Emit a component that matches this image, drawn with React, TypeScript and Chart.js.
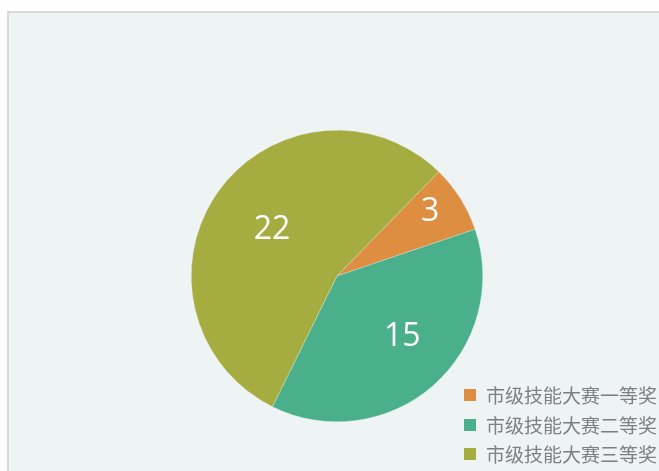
import React, { useEffect, useRef } from "react";
import { Chart, registerables } from "chart.js";

Chart.register(...registerables);

const categories = ["市级技能大赛一等奖", "市级技能大赛二等奖", "市级技能大赛三等奖"];
const values = [3, 15, 22];
const colors = ["#DD8E40", "#4AAF8B", "#A5AD41"];
const labelRadiusFactor = [0.783, 0.601, 0.555];
const labelAngleOffsetDeg = [-3.1, -6.9, 1.3];

const LABEL_FONT = 32;

const labelPlugin = {
  id: "sliceLabels",
  afterDatasetsDraw(chart: any) {
    const ctx = chart.ctx;
    const meta = chart.getDatasetMeta(0);
    ctx.save();
    ctx.fillStyle = "#ffffff";
    ctx.font = `${LABEL_FONT}px 'Open Sans', sans-serif`;
    ctx.textAlign = "center";
    ctx.textBaseline = "alphabetic";
    meta.data.forEach((arc: any, i: number) => {
      const p = arc.getProps(["x", "y", "startAngle", "endAngle", "outerRadius"], true);
      const mid = (p.startAngle + p.endAngle) / 2 + (labelAngleOffsetDeg[i] * Math.PI) / 180;
      const r = p.outerRadius * labelRadiusFactor[i];
      const cx = p.x + Math.cos(mid) * r;
      const cy = p.y + Math.sin(mid) * r;
      ctx.fillText(String(values[i]), cx, cy + LABEL_FONT * 0.357);
    });
    ctx.restore();
  },
};

const legendPlugin = {
  id: "customLegend",
  afterDraw(chart: any) {
    const ctx = chart.ctx;
    ctx.save();
    ctx.font = "19px 'Noto Sans CJK SC', sans-serif";
    ctx.textBaseline = "middle";
    ctx.textAlign = "left";
    const x0 = 464;
    const ys = [395, 425, 454];
    categories.forEach((c, i) => {
      ctx.fillStyle = colors[i];
      ctx.fillRect(x0, ys[i] - 6, 12, 12);
      ctx.fillStyle = "#7f7f7f";
      ctx.fillText(c, x0 + 22, ys[i] + 1);
    });
    ctx.restore();
  },
};

export default function App() {
  const ref = useRef<HTMLCanvasElement | null>(null);
  useEffect(() => {
    if (!ref.current) return;
    const chart = new Chart(ref.current, {
      type: "pie",
      data: {
        labels: categories,
        datasets: [
          {
            data: values,
            backgroundColor: colors,
            borderColor: "rgba(238,243,244,0.6)",
            borderWidth: 0.5,
          },
        ],
      },
      options: {
        animation: false,
        responsive: false,
        rotation: 44.3,
        layout: { padding: { left: 191, right: 176, top: 130, bottom: 49 } },
        plugins: {
          legend: { display: false },
          tooltip: { enabled: false },
        },
      },
      plugins: [labelPlugin, legendPlugin],
    });
    return () => chart.destroy();
  }, []);

  return (
    <div
      style={{
        position: "fixed",
        left: 0,
        top: 0,
        width: 659,
        height: 471,
        overflow: "hidden",
        background: "#ffffff",
      }}
    >
      <div
        style={{
          position: "absolute",
          left: 7,
          top: 11,
          width: 700,
          height: 520,
          boxSizing: "border-box",
          border: "2px solid #d9d9d9",
          background: "#EEF3F4",
        }}
      />
      <canvas
        ref={ref}
        width={659}
        height={471}
        style={{ position: "absolute", left: 0, top: 0, width: 659, height: 471 }}
      />
    </div>
  );
}
